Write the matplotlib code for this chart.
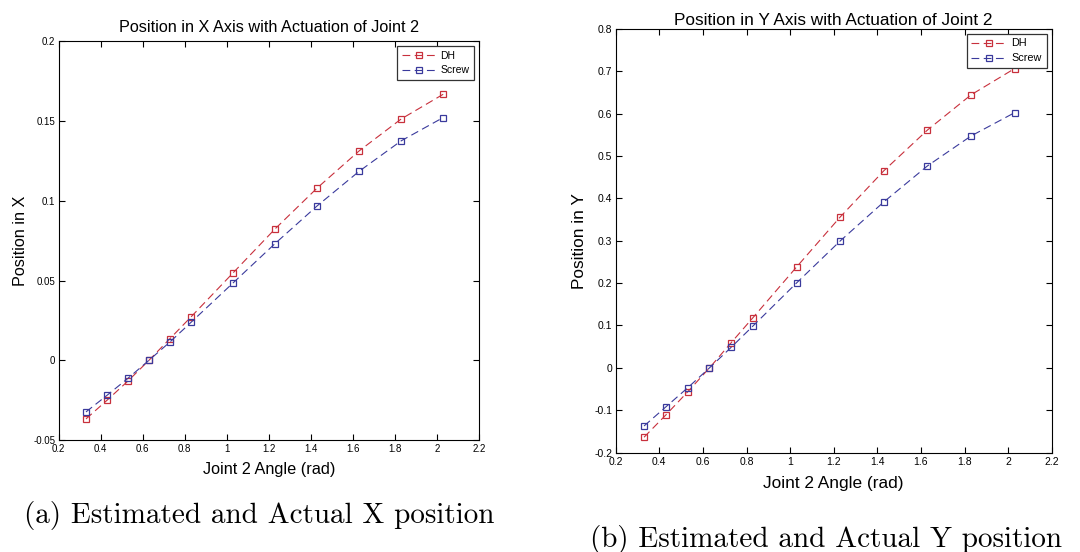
import numpy as np
import matplotlib.pyplot as plt

# joint 2 angle (rad)
angulo = [0.33, 0.43, 0.53, 0.63, 0.73, 0.83, 1.03, 1.23, 1.43, 1.63, 1.83, 2.03]

# posição em X
x_dh = [-0.0368, -0.0251, -0.0130, 0.0, 0.0136, 0.0272, 0.0548, 0.0824, 0.1080, 0.1313, 0.1513, 0.1668]
x_screw = [-0.0324, -0.0220, -0.0113, 0.0, 0.0115, 0.0238, 0.0485, 0.0732, 0.0968, 0.1185, 0.1376, 0.1522]

# posição em Y
y_dh = [-0.1635, -0.1110, -0.0566, 0.0, 0.0597, 0.1187, 0.2382, 0.3560, 0.4650, 0.5610, 0.6440, 0.7060]
y_screw = [-0.1370, -0.0920, -0.0470, 0.0, 0.0487, 0.0990, 0.2005, 0.2995, 0.3915, 0.4764, 0.5470, 0.6020]

xticks = [0.2, 0.4, 0.6, 0.8, 1, 1.2, 1.4, 1.6, 1.8, 2, 2.2]
yticks_x = [-0.05, 0, 0.05, 0.1, 0.15, 0.2]
yticks_y = [-0.2, -0.1, 0, 0.1, 0.2, 0.3, 0.4, 0.5, 0.6, 0.7, 0.8]

cor_dh = "#c8303c"
cor_screw = "#3a3a9c"

params = {
    "font.family": ["Liberation Sans", "DejaVu Sans"],
    "axes.linewidth": 0.8,
    "xtick.direction": "in",
    "ytick.direction": "in",
    "xtick.top": True,
    "ytick.right": True,
    "xtick.major.size": 4,
    "ytick.major.size": 4,
    "xtick.major.width": 0.8,
    "ytick.major.width": 0.8,
    "figure.facecolor": "white",
}
plt.rcParams.update(params)


def grafico(ax, x, a, b, yticks, titulo, ylabel, fs, tfs, lfs, ylx, tpad):
    ax.plot(x, a, color=cor_dh, linestyle=(0, (7, 4)), linewidth=0.8,
            marker="s", markersize=4.2, markerfacecolor="none",
            markeredgecolor=cor_dh, markeredgewidth=0.9, label="DH")
    ax.plot(x, b, color=cor_screw, linestyle=(0, (7, 4)), linewidth=0.8,
            marker="s", markersize=4.2, markerfacecolor="none",
            markeredgecolor=cor_screw, markeredgewidth=0.9, label="Screw")
    ax.set_xlim(0.2, 2.2)
    ax.set_ylim(yticks[0], yticks[-1])
    ax.set_xticks(xticks)
    ax.set_xticklabels(["%g" % t for t in xticks], fontsize=tfs)
    ax.set_yticks(yticks)
    ax.set_yticklabels(["%g" % t for t in yticks], fontsize=tfs)
    ax.tick_params(axis="x", pad=3)
    ax.tick_params(axis="y", pad=2.5)
    ax.set_title(titulo, fontsize=fs, pad=tpad)
    ax.set_xlabel("Joint 2 Angle (rad)", fontsize=fs)
    ax.set_ylabel(ylabel, fontsize=fs)
    ax.xaxis.set_label_coords(0.5, -0.055)
    ax.yaxis.set_label_coords(ylx, 0.5)
    leg = ax.legend(loc="upper right", fontsize=lfs, fancybox=False,
                    framealpha=1, edgecolor="#333333", borderpad=0.45,
                    handlelength=3.2, handletextpad=0.5, labelspacing=0.45,
                    borderaxespad=0.45)
    leg.get_frame().set_linewidth(0.9)


fig = plt.figure(figsize=(10.8, 5.52), dpi=100)
ax1 = fig.add_axes([0.0543, 0.2029, 0.3892, 0.7223])
ax2 = fig.add_axes([0.5701, 0.1799, 0.4037, 0.7681])

grafico(ax1, angulo, x_dh, x_screw, yticks_x,
        "Position in X Axis with Actuation of Joint 2", "Position in X",
        11.7, 7, 7.5, -0.072, 7)
grafico(ax2, angulo, y_dh, y_screw, yticks_y,
        "Position in Y Axis with Actuation of Joint 2", "Position in Y",
        12.4, 7.5, 7.8, -0.066, 3)

# legendas das figuras
fig.text(259 / 1080, 1 - 516 / 552, "(a) Estimated and Actual X position",
         family="cmr10", fontsize=21, ha="center", va="center")
fig.text(826 / 1080, 1 - 539 / 552, "(b) Estimated and Actual Y position",
         family="cmr10", fontsize=21, ha="center", va="center")

fig.savefig("out.png", dpi=100)
